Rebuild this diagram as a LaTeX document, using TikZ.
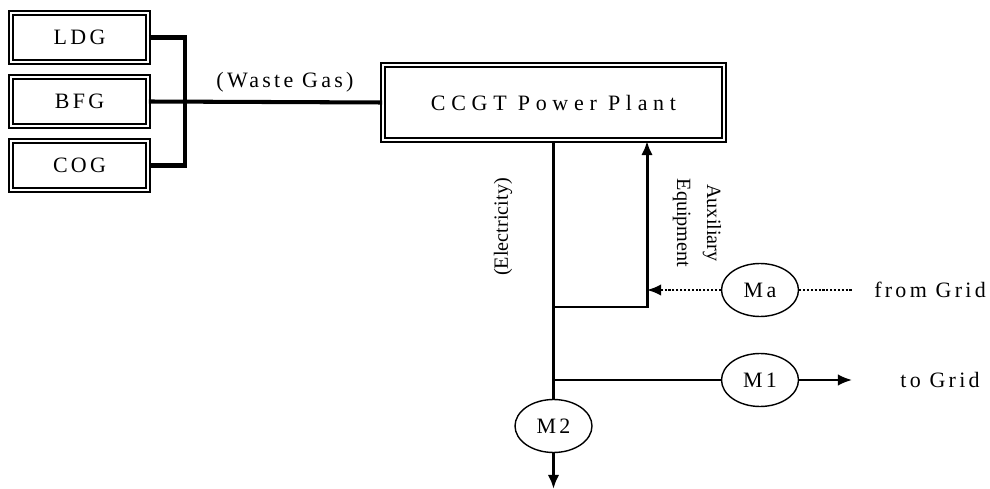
\documentclass[tikz,border=0pt]{standalone}
\usepackage{fontspec}
\setmainfont{Liberation Serif}
\newfontfamily\widefont[LetterSpace=15]{Liberation Serif}
\newfontfamily\widerfont[LetterSpace=26]{Liberation Serif}
\usepackage{tikz}
\usetikzlibrary{positioning,shapes.geometric,arrows.meta,calc}
\tikzset{
  >={Latex[length=8pt,width=6.5pt]},
  every node/.style={font=\fontsize{12.5}{15}\selectfont},
  % --- nodes
  src/.style   = {draw, double, double distance=1.2pt, line width=1.1pt, fill=white,
                  minimum width=2.74cm, minimum height=0.98cm, inner sep=0pt,
                  font=\fontsize{12.5}{15}\widefont},
  plantbox/.style = {src, minimum width=6.82cm, minimum height=1.5cm,
                  font=\fontsize{12.5}{15}\widerfont},
  meter/.style = {ellipse, draw, line width=0.8pt, minimum width=1.54cm,
                  minimum height=1.06cm, inner sep=0pt, font=\fontsize{12.5}{15}\widefont},
  lbl/.style   = {font=\fontsize{12.5}{15}\widefont, inner sep=1pt},
  vlbl/.style  = {font=\fontsize{11.5}{17}\selectfont, inner sep=1pt, align=center},
  % --- edges
  bus/.style   = {line width=2.3pt},
  elec/.style  = {line width=1.7pt},
  ethin/.style = {line width=1.1pt},
  edot/.style  = {line width=1.2pt, densely dotted},
}
\begin{document}
\begin{tikzpicture}[x=0.02cm,y=-0.02cm]
  \useasboundingbox (0,0) rectangle (990,489);
  \node[src] (ldg) at (79.5,37.5) {LDG};
  \node[src] (bfg) at (79.5,101.5) {BFG};
  \node[src] (cog) at (79.5,165.5) {COG};
  \node[plantbox] (plant) at (553.5,102.5) {CCGT Power Plant};
  \node[meter] (ma) at (760,290) {Ma};
  \node[meter] (mone) at (760,380) {M1};
  \node[meter] (mtwo) at (553.5,426) {M2};
  \coordinate (jn) at (185,101.5);
  \coordinate (aux) at (647,307);
  \coordinate (fromgrid) at (852,290);
  \coordinate (togrid) at (852,380);
  \coordinate (out) at (553.5,489);
  % gas bus
  \draw[bus] (ldg.east) -| (jn) |- (cog.east);
  \draw[bus] (bfg.east) -- (plant.west);
  \node[lbl] (gas) at (285,82) {(Waste Gas)};
  % electricity
  \draw[elec] (plant.south) -- (mtwo.north);
  \draw[elec,->] (plant.south |- aux) -- (aux) -- (aux |- plant.south);
  \draw[ethin] (plant.south |- mone) -- (mone.west);
  \draw[ethin,->] (mone.east) -- (togrid);
  \draw[elec,->] (mtwo.south) -- (out);
  \draw[edot,->] (ma.west) -- (ma -| aux);
  \draw[edot] (ma.east) -- (fromgrid);
  \node[vlbl,rotate=90] (elab) at (503,227) {(Electricity)};
  \node[vlbl,rotate=-90] (auxlab) at (697,223) {Auxiliary\\Equipment};
  \node[lbl] (fg) at (930,290) {from Grid};
  \node[lbl] (tg) at (940,380) {to Grid};
\end{tikzpicture}
\end{document}
